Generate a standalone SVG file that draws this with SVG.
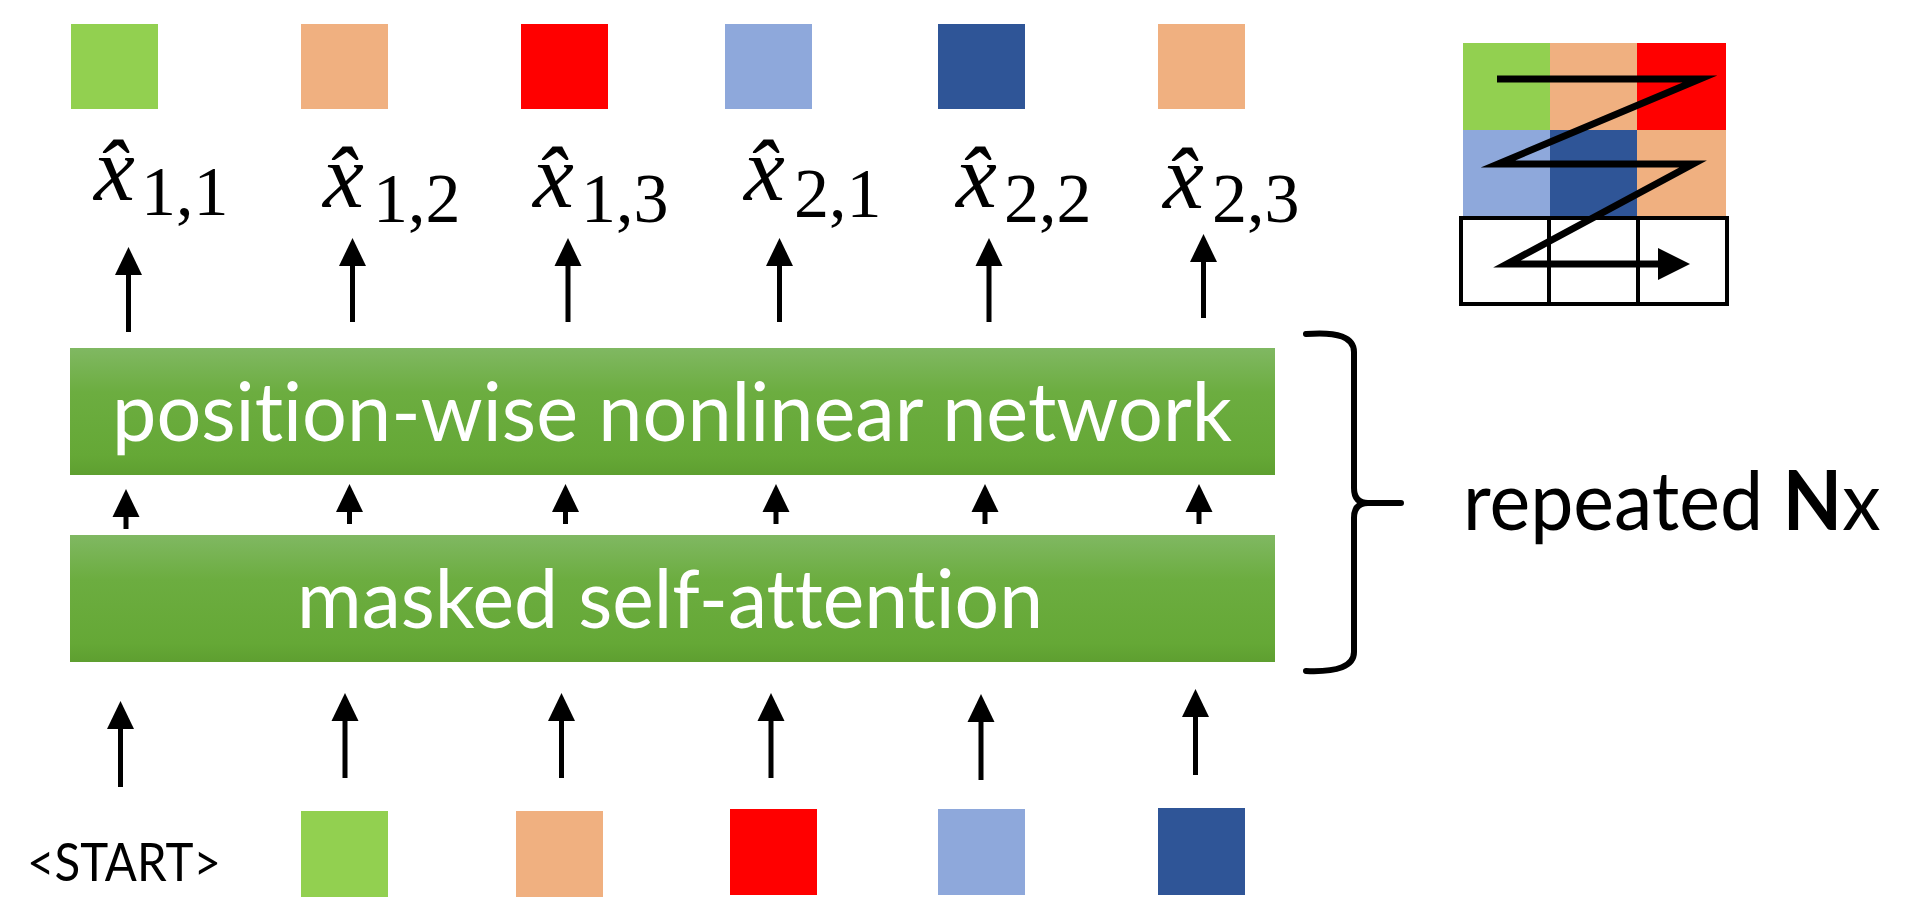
<svg xmlns="http://www.w3.org/2000/svg" width="1906" height="898" viewBox="0 0 1906 898">
<defs>
<linearGradient id="gr" x1="0" y1="0" x2="0" y2="1">
<stop offset="0" stop-color="#80b862"/>
<stop offset="0.35" stop-color="#6cad40"/>
<stop offset="0.85" stop-color="#65a836"/>
<stop offset="1" stop-color="#5e9f30"/>
</linearGradient>
<marker id="ah" markerUnits="userSpaceOnUse" markerWidth="30" markerHeight="28" refX="2" refY="13.5" orient="auto" overflow="visible">
<path d="M0,0 L28,13.5 L0,27 z" fill="#000"/>
</marker>
</defs>
<style>
.g{fill:#92D050}.o{fill:#F0B080}.r{fill:#FF0000}.lb{fill:#8EA8DB}.db{fill:#2F5597}
.box{fill:url(#gr)}
.bt{font-family:Lato,"Open Sans",sans-serif;font-size:82px;fill:#fff;font-variant-ligatures:none;font-feature-settings:"liga" 0,"clig" 0,"dlig" 0}
.lbl{font-family:Lato,"Open Sans",sans-serif;fill:#000;font-variant-ligatures:none}
.math{font-family:"Liberation Serif",serif;fill:#000}
.mx{font-style:italic;font-size:92px}
.sub{font-size:70px}
.arr{stroke:#000;stroke-width:5;fill:none;marker-end:url(#ah)}
.br{stroke:#000;stroke-width:6;fill:none;stroke-linecap:round;stroke-linejoin:round}
</style>

<g id="outputs">
<rect class="g" x="71" y="24" width="87" height="85"/>
<rect class="o" x="301" y="24" width="87" height="85"/>
<rect class="r" x="521" y="24" width="87" height="85"/>
<rect class="lb" x="725" y="24" width="87" height="85"/>
<rect class="db" x="938" y="24" width="87" height="85"/>
<rect class="o" x="1158" y="24" width="87" height="85"/>
</g>

<g id="labels">
<text id="x11" class="math"><tspan class="mx" x="94" y="200">x̂</tspan><tspan class="sub" x="141" y="215">1,1</tspan></text>
<text id="x12" class="math"><tspan class="mx" x="323" y="207">x̂</tspan><tspan class="sub" x="373" y="222">1,2</tspan></text>
<text id="x13" class="math"><tspan class="mx" x="533" y="207">x̂</tspan><tspan class="sub" x="581" y="222">1,3</tspan></text>
<text id="x21" class="math"><tspan class="mx" x="744" y="200">x̂</tspan><tspan class="sub" x="794" y="217">2,1</tspan></text>
<text id="x22" class="math"><tspan class="mx" x="956" y="207">x̂</tspan><tspan class="sub" x="1004" y="222">2,2</tspan></text>
<text id="x23" class="math"><tspan class="mx" x="1163" y="208">x̂</tspan><tspan class="sub" x="1212" y="222">2,3</tspan></text>
</g>

<g id="ffn">
<rect class="box" x="70" y="348" width="1205" height="127"/>
<text class="bt" x="672" y="441" text-anchor="middle" textLength="1120" lengthAdjust="spacingAndGlyphs">position-wise nonlinear network</text>
</g>

<g id="attn">
<rect class="box" x="70" y="535" width="1205" height="127"/>
<text class="bt" x="670" y="628" text-anchor="middle" textLength="746" lengthAdjust="spacingAndGlyphs">masked self-attention</text>
</g>

<g id="inputs">
<text class="lbl" x="27" y="881" font-size="52" textLength="194" lengthAdjust="spacingAndGlyphs">&lt;START&gt;</text>
<rect class="g" x="301" y="811" width="87" height="86"/>
<rect class="o" x="516" y="811" width="87" height="86"/>
<rect class="r" x="730" y="809" width="87" height="86"/>
<rect class="lb" x="938" y="809" width="87" height="86"/>
<rect class="db" x="1158" y="808" width="87" height="87"/>
</g>

<g id="connectors">
<line class="arr" x1="128.5" y1="332" x2="128.5" y2="273"/>
<line class="arr" x1="352.5" y1="322" x2="352.5" y2="264"/>
<line class="arr" x1="568" y1="322" x2="568" y2="264"/>
<line class="arr" x1="779.5" y1="322" x2="779.5" y2="264"/>
<line class="arr" x1="989" y1="322" x2="989" y2="264"/>
<line class="arr" x1="1203.5" y1="318" x2="1203.5" y2="260"/>

<line class="arr" x1="126" y1="529" x2="126" y2="515"/>
<line class="arr" x1="349.5" y1="524" x2="349.5" y2="510"/>
<line class="arr" x1="565.5" y1="524" x2="565.5" y2="510"/>
<line class="arr" x1="776" y1="524" x2="776" y2="510"/>
<line class="arr" x1="985" y1="524" x2="985" y2="510"/>
<line class="arr" x1="1199" y1="524" x2="1199" y2="510"/>

<line class="arr" x1="120.5" y1="787" x2="120.5" y2="727"/>
<line class="arr" x1="345" y1="778" x2="345" y2="719"/>
<line class="arr" x1="561.5" y1="778" x2="561.5" y2="719"/>
<line class="arr" x1="771" y1="778" x2="771" y2="719"/>
<line class="arr" x1="981" y1="780" x2="981" y2="720"/>
<line class="arr" x1="1195.5" y1="775" x2="1195.5" y2="715"/>
</g>

<g id="brace">
<path class="br" d="M1306,334 Q1354,330 1354,352 L1354,488 Q1354,503 1368,503 L1401,503 M1368,503 Q1354,503 1354,518 L1354,652 Q1354,673 1306,671"/>
<text class="lbl" transform="translate(1463,530) scale(0.94,1)" x="0" y="0" font-size="82">repeated <tspan font-weight="bold">N</tspan>x</text>
</g>

<g id="zigzag">
<rect class="g" x="1463" y="43" width="87" height="87"/>
<rect class="o" x="1550" y="43" width="87" height="87"/>
<rect class="r" x="1637" y="43" width="89" height="87"/>
<rect class="lb" x="1463" y="130" width="87" height="87"/>
<rect class="db" x="1550" y="130" width="87" height="87"/>
<rect class="o" x="1637" y="130" width="89" height="87"/>
<rect x="1461" y="218" width="266" height="86" fill="#fff" stroke="#000" stroke-width="4"/>
<line x1="1549" y1="218" x2="1549" y2="304" stroke="#000" stroke-width="4"/>
<line x1="1638" y1="218" x2="1638" y2="304" stroke="#000" stroke-width="4"/>
<polyline points="1497,79 1700,79 1498,164 1693,164 1507,264 1662,264" fill="none" stroke="#000" stroke-width="7" stroke-linejoin="miter" stroke-miterlimit="12"/>
<path d="M1658,248 L1690,264 L1658,280 z" fill="#000"/>
</g>
</svg>
